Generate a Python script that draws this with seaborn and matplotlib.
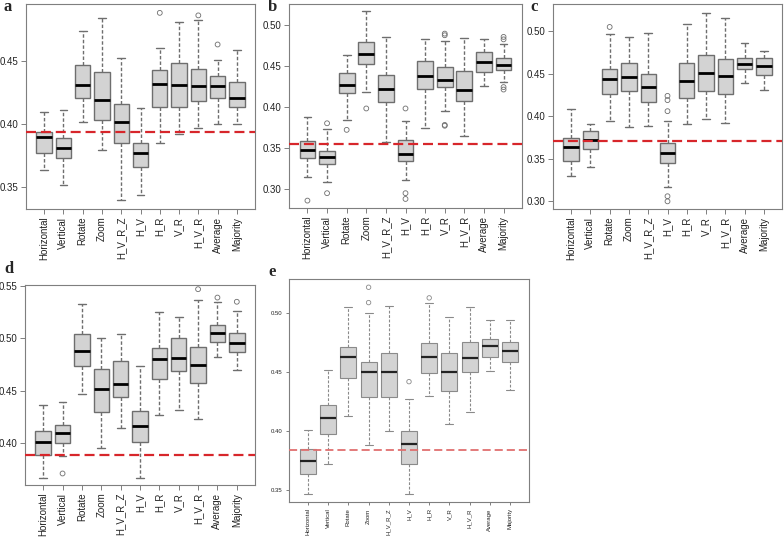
import pandas as pd
import matplotlib
matplotlib.use("Agg")
import matplotlib.pyplot as plt
import seaborn as sns

# Categories on the x axis (same for all panels)
cats = ["Horizontal", "Vertical", "Rotate", "Zoom", "H_V_R_Z", "H_V",
        "H_R", "V_R", "H_V_R", "Average", "Majority"]

# Box summaries per category: lower whisker, Q1, median, Q3, upper whisker
a_box = [[0.364, 0.377, 0.390, 0.394, 0.410],
         [0.352, 0.373, 0.381, 0.389, 0.411],
         [0.402, 0.421, 0.431, 0.447, 0.474],
         [0.380, 0.403, 0.419, 0.441, 0.484],
         [0.340, 0.385, 0.402, 0.416, 0.452],
         [0.344, 0.366, 0.377, 0.385, 0.413],
         [0.385, 0.414, 0.432, 0.443, 0.460],
         [0.392, 0.414, 0.431, 0.448, 0.481],
         [0.397, 0.418, 0.430, 0.444, 0.482],
         [0.400, 0.421, 0.430, 0.438, 0.451],
         [0.400, 0.414, 0.421, 0.433, 0.459]]
a_out_cat = ["H_R", "H_V_R", "Average"]
a_out_val = [0.488, 0.486, 0.463]
a_ref = 0.394

b_box = [[0.315, 0.338, 0.348, 0.358, 0.388],
         [0.309, 0.330, 0.339, 0.346, 0.373],
         [0.384, 0.417, 0.426, 0.441, 0.463],
         [0.418, 0.452, 0.464, 0.479, 0.516],
         [0.357, 0.406, 0.422, 0.439, 0.485],
         [0.311, 0.334, 0.343, 0.360, 0.383],
         [0.374, 0.422, 0.437, 0.456, 0.483],
         [0.395, 0.424, 0.433, 0.449, 0.480],
         [0.365, 0.407, 0.421, 0.443, 0.484],
         [0.425, 0.442, 0.455, 0.467, 0.483],
         [0.430, 0.445, 0.451, 0.459, 0.476]]
b_out_cat = ["Horizontal", "Vertical", "Vertical", "Rotate", "Zoom",
             "H_V", "H_V", "H_V", "V_R", "V_R", "V_R", "V_R",
             "Majority", "Majority", "Majority", "Majority"]
b_out_val = [0.286, 0.380, 0.295, 0.372, 0.398,
             0.398, 0.295, 0.288, 0.489, 0.487, 0.378, 0.377,
             0.485, 0.482, 0.424, 0.421]
b_ref = 0.355

c_box = [[0.330, 0.348, 0.364, 0.375, 0.408],
         [0.340, 0.361, 0.372, 0.383, 0.391],
         [0.395, 0.426, 0.444, 0.455, 0.497],
         [0.387, 0.430, 0.446, 0.463, 0.493],
         [0.389, 0.417, 0.434, 0.450, 0.498],
         [0.317, 0.345, 0.357, 0.369, 0.394],
         [0.391, 0.422, 0.442, 0.463, 0.509],
         [0.397, 0.430, 0.451, 0.472, 0.522],
         [0.392, 0.426, 0.447, 0.467, 0.515],
         [0.439, 0.456, 0.461, 0.469, 0.486],
         [0.431, 0.448, 0.459, 0.469, 0.477]]
c_out_cat = ["Rotate", "H_V", "H_V", "H_V", "H_V", "H_V"]
c_out_val = [0.505, 0.424, 0.419, 0.406, 0.306, 0.300]
c_ref = 0.371

d_box = [[0.367, 0.389, 0.401, 0.412, 0.436],
         [0.388, 0.400, 0.410, 0.417, 0.439],
         [0.447, 0.474, 0.488, 0.504, 0.533],
         [0.395, 0.430, 0.452, 0.471, 0.500],
         [0.414, 0.444, 0.456, 0.478, 0.504],
         [0.367, 0.401, 0.416, 0.431, 0.474],
         [0.427, 0.461, 0.480, 0.491, 0.525],
         [0.432, 0.469, 0.481, 0.500, 0.520],
         [0.423, 0.457, 0.475, 0.492, 0.537],
         [0.482, 0.497, 0.505, 0.513, 0.535],
         [0.470, 0.487, 0.496, 0.505, 0.526]]
d_out_cat = ["Vertical", "H_V_R", "Average", "Majority"]
d_out_val = [0.371, 0.547, 0.539, 0.535]
d_ref = 0.389

e_box = [[0.347, 0.364, 0.375, 0.385, 0.401],
         [0.372, 0.398, 0.411, 0.422, 0.452],
         [0.413, 0.445, 0.463, 0.471, 0.505],
         [0.388, 0.429, 0.450, 0.459, 0.500],
         [0.400, 0.429, 0.450, 0.466, 0.506],
         [0.347, 0.372, 0.389, 0.400, 0.427],
         [0.430, 0.449, 0.463, 0.475, 0.509],
         [0.406, 0.434, 0.450, 0.466, 0.497],
         [0.416, 0.450, 0.462, 0.476, 0.505],
         [0.451, 0.463, 0.472, 0.478, 0.494],
         [0.435, 0.459, 0.468, 0.476, 0.494]]
e_out_cat = ["Zoom", "Zoom", "H_V", "H_R"]
e_out_val = [0.509, 0.522, 0.442, 0.513]
e_ref = 0.384


sns.set_style("white")
plt.rcParams["font.family"] = ["Liberation Sans", "DejaVu Sans"]

W, H = 784, 538
fig = plt.figure(figsize=(W / 100, H / 100), dpi=100)


def panel(letter, box, out_cat, out_val, ref, ylim, yticks, px, letter_xy,
          fs=7.0, small=False):
    left, right, top, bottom = px
    ax = fig.add_axes([left / W, 1 - bottom / H, (right - left) / W, (bottom - top) / H])

    rows = [(c, v) for c, vals in zip(cats, box) for v in vals]
    df = pd.DataFrame(rows, columns=["method", "acc"])
    edge = "#8a8a8a" if small else "#6e6e6e"
    sns.boxplot(data=df, x="method", y="acc", order=cats, whis=(0, 100),
                width=0.8, color="#D3D3D3", saturation=1, linecolor=edge,
                linewidth=0.8 if small else 1.0, fliersize=0, ax=ax,
                medianprops=dict(color="#222222" if small else "black",
                                 linewidth=1.6 if small else 2.0),
                whiskerprops=dict(linestyle=(0, (2.5, 1.5))))

    odf = pd.DataFrame({"method": out_cat, "acc": out_val})
    n0 = len(ax.collections)
    sns.stripplot(data=odf, x="method", y="acc", order=cats, jitter=False,
                  size=3.2 if small else 3.5, color=edge, edgecolor=edge,
                  linewidth=0.6, ax=ax)
    for coll in ax.collections[n0:]:
        coll.set_facecolor("none")

    ax.axhline(ref, color="#E07070" if small else "#D7262B",
               lw=1.3 if small else 1.6, dashes=(4.5, 2.2), zorder=5)

    ax.set_xlim(-0.94, 10.94)
    ax.set_ylim(*ylim)
    ax.set_yticks(yticks)
    ax.set_yticklabels([f"{t:.2f}" for t in yticks])
    ax.set_xticks(range(len(cats)))
    ax.set_xticklabels(cats, rotation=90)
    ax.set_xlabel("")
    ax.set_ylabel("")
    for s in ax.spines.values():
        s.set_color("#7f7f7f")
        s.set_linewidth(0.8)
    ax.tick_params(axis="both", direction="out", length=3.5 if not small else 2.5,
                   width=0.7, color="#7f7f7f", labelsize=fs, labelcolor="#222222",
                   pad=2, left=True, bottom=True)

    fig.text(letter_xy[0] / W, 1 - letter_xy[1] / H, letter,
             family="Liberation Serif", fontweight="bold", fontsize=12,
             ha="left", va="baseline")
    return ax


panel("a", a_box, a_out_cat, a_out_val, a_ref, (0.333, 0.495),
      [0.35, 0.40, 0.45], (26, 255, 4, 209), (3, 11))
panel("b", b_box, b_out_cat, b_out_val, b_ref, (0.277, 0.525),
      [0.30, 0.35, 0.40, 0.45, 0.50], (289, 522, 4, 208), (268, 11))
panel("c", c_box, c_out_cat, c_out_val, c_ref, (0.291, 0.532),
      [0.30, 0.35, 0.40, 0.45, 0.50], (553, 782, 4, 209), (530, 11))
panel("d", d_box, d_out_cat, d_out_val, d_ref, (0.360, 0.551),
      [0.40, 0.45, 0.50, 0.55], (25, 255, 285, 485), (4, 273))
panel("e", e_box, e_out_cat, e_out_val, e_ref, (0.340, 0.529),
      [0.35, 0.40, 0.45, 0.50], (289, 529, 279, 502), (268, 276),
      fs=4.3, small=True)

fig.savefig("out.png", dpi=100)
